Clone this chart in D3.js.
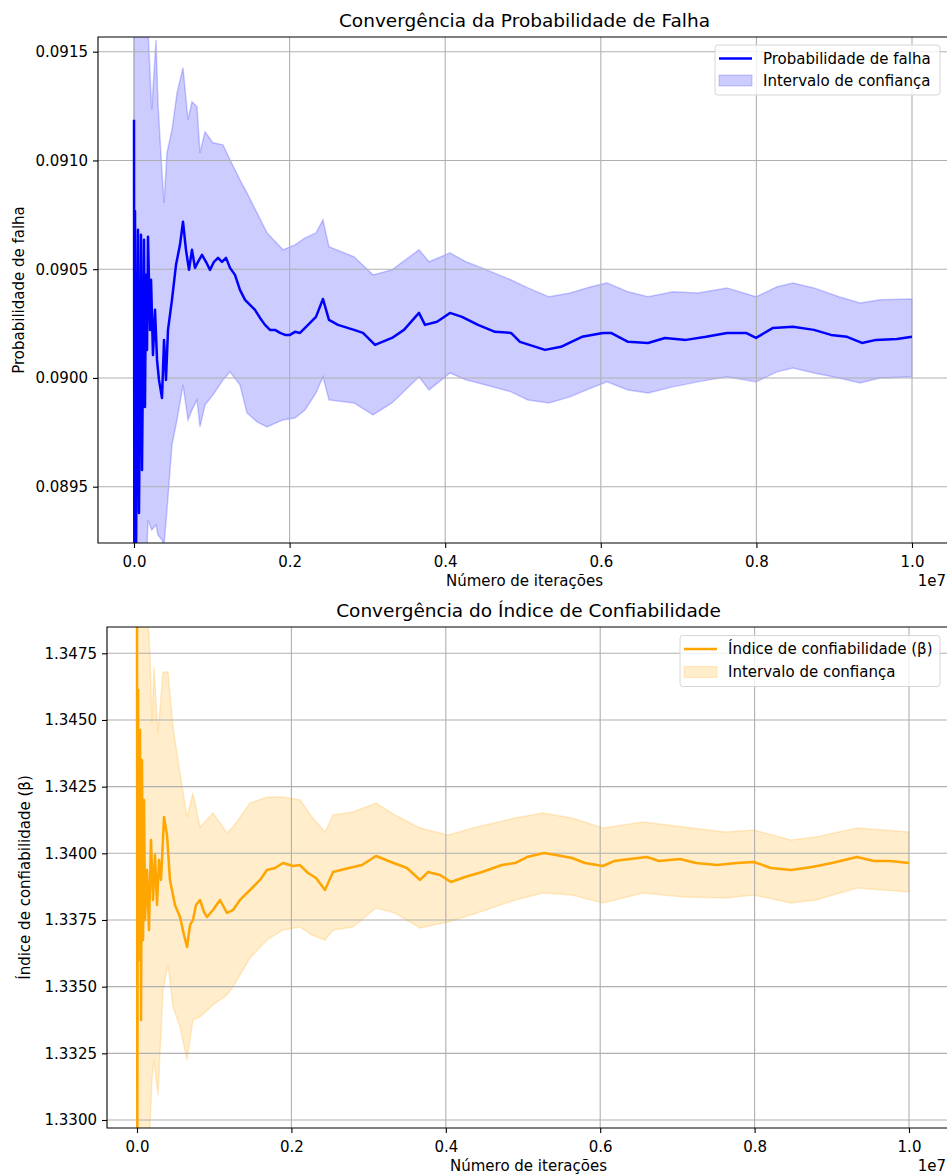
<!DOCTYPE html>
<html>
<head>
<meta charset="utf-8">
<script src="https://cdn.jsdelivr.net/npm/d3@7"></script>
<style>
  body { margin: 0; background: #fff; }
  svg { font-family: 'DejaVu Sans', sans-serif; }
</style>
</head>
<body>
<svg width="947" height="1176"></svg>
<script>
(function (d3) {
  'use strict';

  // iterations are in millions (axis shows them as x 1e7)
  const probMeanIter = [0, 0.004, 0.013, 0.026, 0.039, 0.051, 0.064, 0.090, 0.103, 0.129, 0.141, 0.154, 0.167, 0.180,
    0.206, 0.219, 0.244, 0.270, 0.296, 0.321, 0.360, 0.386, 0.411, 0.437, 0.488, 0.540, 0.591, 0.630, 0.668, 0.707,
    0.745, 0.784, 0.823, 0.874, 0.925, 0.977, 1.028, 1.080, 1.131, 1.183, 1.234, 1.298, 1.362, 1.427, 1.491, 1.555,
    1.620, 1.684, 1.748, 1.812, 1.877, 1.941, 2.005, 2.069, 2.134, 2.237, 2.339, 2.429, 2.506, 2.622, 2.828, 2.943,
    3.098, 3.316, 3.470, 3.663, 3.740, 3.895, 4.062, 4.216, 4.422, 4.640, 4.846, 4.961, 5.283, 5.488, 5.758, 6.028,
    6.131, 6.350, 6.607, 6.825, 7.095, 7.352, 7.622, 7.866, 7.995, 8.213, 8.470, 8.740, 8.959, 9.165, 9.357, 9.537,
    9.807, 10.0];
  const probMean = [0.091187, 0.089163, 0.090768, 0.089163, 0.089991, 0.090681, 0.089379, 0.090658, 0.089577, 0.090635,
    0.089867, 0.090474, 0.090129, 0.090649, 0.090221, 0.090451, 0.090106, 0.090313, 0.090083, 0.089991, 0.089908,
    0.090175, 0.089991, 0.090221, 0.090359, 0.090520, 0.090612, 0.090718, 0.090589, 0.090497, 0.090589, 0.090506,
    0.090534, 0.090566, 0.090534, 0.090497, 0.090534, 0.090552, 0.090534, 0.090552, 0.090506, 0.090474, 0.090405,
    0.090359, 0.090336, 0.090313, 0.090276, 0.090244, 0.090221, 0.090221, 0.090207, 0.090198, 0.090198, 0.090212,
    0.090207, 0.090244, 0.090281, 0.090363, 0.090267, 0.090244, 0.090221, 0.090207, 0.090152, 0.090184, 0.090221,
    0.090299, 0.090244, 0.090258, 0.090299, 0.090281, 0.090244, 0.090212, 0.090207, 0.090166, 0.090129, 0.090143,
    0.090189, 0.090207, 0.090207, 0.090166, 0.090161, 0.090184, 0.090175, 0.090189, 0.090207, 0.090207, 0.090184,
    0.090230, 0.090235, 0.090221, 0.090198, 0.090189, 0.090161, 0.090175, 0.090179, 0.090189];

  const probBandIter = [0, 0.116, 0.180, 0.228, 0.283, 0.308, 0.360, 0.386, 0.424, 0.488, 0.553, 0.630, 0.694, 0.745,
    0.810, 0.848, 0.913, 1.015, 1.144, 1.234, 1.362, 1.452, 1.581, 1.710, 1.915, 2.069, 2.198, 2.339, 2.429, 2.506,
    2.828, 3.072, 3.316, 3.663, 3.792, 4.062, 4.267, 4.473, 4.846, 5.064, 5.334, 5.604, 5.874, 6.080, 6.350, 6.607,
    6.928, 7.249, 7.622, 7.995, 8.265, 8.470, 8.740, 9.062, 9.332, 9.589, 10.0];
  const probUpper = [0.0925, 0.0918, 0.091601, 0.091233, 0.091555, 0.091265, 0.090943, 0.090805, 0.091035, 0.091141,
    0.091311, 0.091426, 0.091187, 0.091270, 0.091247, 0.091035, 0.091132, 0.091081, 0.091072, 0.091003, 0.090911,
    0.090851, 0.090759, 0.090667, 0.090589, 0.090612, 0.090644, 0.090667, 0.090727, 0.090603, 0.090557, 0.090474,
    0.090497, 0.090589, 0.090534, 0.090575, 0.090534, 0.090506, 0.090451, 0.090414, 0.090373, 0.090391, 0.090419,
    0.090437, 0.090396, 0.090373, 0.090396, 0.090391, 0.090414, 0.090373, 0.090419, 0.090437, 0.090414, 0.090373,
    0.090345, 0.090359, 0.090363];
  const probLower = [0.0885, 0.0887, 0.089347, 0.089301, 0.089324, 0.089278, 0.089255, 0.089232, 0.089393, 0.089692,
    0.089807, 0.089968, 0.089807, 0.089853, 0.089899, 0.089775, 0.089876, 0.089922, 0.089991, 0.090028, 0.089968,
    0.089839, 0.089798, 0.089775, 0.089807, 0.089816, 0.089853, 0.089931, 0.090005, 0.089899, 0.089885, 0.089830,
    0.089885, 0.090005, 0.089945, 0.090023, 0.089991, 0.089972, 0.089936, 0.089899, 0.089885, 0.089913, 0.089954,
    0.089982, 0.089945, 0.089931, 0.089959, 0.089982, 0.090005, 0.089982, 0.090028, 0.090046, 0.090023, 0.090000,
    0.089977, 0.090000, 0.090005];

  const betaMeanIter = [0, 0.004, 0.013, 0.026, 0.039, 0.052, 0.065, 0.078, 0.091, 0.104, 0.130, 0.155, 0.181, 0.207,
    0.233, 0.259, 0.285, 0.311, 0.350, 0.389, 0.427, 0.492, 0.557, 0.609, 0.648, 0.687, 0.725, 0.764, 0.816, 0.868,
    0.907, 0.984, 1.075, 1.166, 1.244, 1.334, 1.425, 1.503, 1.593, 1.684, 1.788, 1.891, 2.021, 2.111, 2.215, 2.319,
    2.435, 2.539, 2.746, 2.915, 3.096, 3.290, 3.497, 3.666, 3.769, 3.925, 4.067, 4.249, 4.469, 4.728, 4.896, 5.052,
    5.272, 5.427, 5.635, 5.803, 6.036, 6.179, 6.386, 6.606, 6.762, 7.034, 7.241, 7.513, 7.772, 7.992, 8.212, 8.472,
    8.743, 9.003, 9.326, 9.547, 9.754, 10.0];
  const betaMean = [1.3500, 1.3290, 1.346120, 1.336000, 1.344621, 1.333752, 1.343497, 1.336750, 1.341998, 1.337500,
    1.339374, 1.337125, 1.340498, 1.338250, 1.339936, 1.338062, 1.339749, 1.339000, 1.341361, 1.340686, 1.339000,
    1.338062, 1.337613, 1.336938, 1.336488, 1.337313, 1.337500, 1.338062, 1.338250, 1.337800, 1.337613, 1.337875,
    1.338250, 1.337762, 1.337875, 1.338250, 1.338512, 1.338737, 1.339000, 1.339374, 1.339449, 1.339636, 1.339524,
    1.339561, 1.339262, 1.339074, 1.338624, 1.339299, 1.339449, 1.339561, 1.339899, 1.339674, 1.339449, 1.339000,
    1.339299, 1.339187, 1.338924, 1.339112, 1.339299, 1.339561, 1.339636, 1.339861, 1.340011, 1.339936, 1.339824,
    1.339636, 1.339524, 1.339711, 1.339786, 1.339861, 1.339711, 1.339786, 1.339636, 1.339561, 1.339636, 1.339674,
    1.339449, 1.339374, 1.339487, 1.339636, 1.339861, 1.339711, 1.339711, 1.339636];

  const betaBandIter = [0, 0.117, 0.168, 0.194, 0.220, 0.272, 0.337, 0.402, 0.466, 0.557, 0.648, 0.725, 0.816, 0.984,
    1.166, 1.244, 1.464, 1.684, 1.891, 2.111, 2.267, 2.435, 2.539, 2.798, 3.096, 3.342, 3.666, 4.028, 4.404, 4.896,
    5.259, 5.635, 6.036, 6.554, 7.085, 7.617, 7.992, 8.472, 8.795, 9.326, 10.0];
  const betaUpper = [1.3520, 1.3500, 1.347507, 1.344884, 1.346983, 1.344509, 1.346795, 1.346795, 1.344734, 1.343010,
    1.341361, 1.342260, 1.340986, 1.341510, 1.340761, 1.340986, 1.341885, 1.342110, 1.342110, 1.341998, 1.341361,
    1.340798, 1.341435, 1.341548, 1.341885, 1.341435, 1.340948, 1.340686, 1.340986, 1.341323, 1.341510, 1.341323,
    1.340948, 1.341173, 1.340986, 1.340798, 1.340873, 1.340498, 1.340611, 1.340948, 1.340798];
  const betaLower = [1.3260, 1.3280, 1.329704, 1.331503, 1.332253, 1.330941, 1.334876, 1.335813, 1.334239, 1.333490,
    1.332253, 1.333752, 1.333865, 1.334314, 1.334689, 1.334989, 1.336076, 1.336750, 1.337125, 1.337238, 1.336938,
    1.336750, 1.337125, 1.337238, 1.337950, 1.337762, 1.337200, 1.337425, 1.337762, 1.338250, 1.338512, 1.338437,
    1.338137, 1.338512, 1.338362, 1.338325, 1.338437, 1.338137, 1.338250, 1.338700, 1.338550];

  const xTicks = [0, 2, 4, 6, 8, 10];
  const probTicks = [0.0895, 0.0900, 0.0905, 0.0910, 0.0915];
  const betaTicks = [1.3300, 1.3325, 1.3350, 1.3375, 1.3400, 1.3425, 1.3450, 1.3475];

  const fontSize = 15;

  const convergencePlot = (selection, props) => {
    const {
      id, box, xRange, yRange, yTicks, color, meanIter, mean, bandIter, upper, lower,
      title, titleY, yLabel, yLabelX, xLabelY, legend
    } = props;

    const xScale = d3.scaleLinear().domain([0, 10]).range(xRange);
    const yScale = d3.scaleLinear()
      .domain([yTicks[0], yTicks[yTicks.length - 1]])
      .range(yRange);

    const g = selection.append('g').attr('class', id);

    g.append('clipPath').attr('id', id + '-clip')
      .append('rect')
        .attr('x', box.left).attr('y', box.top)
        .attr('width', box.right - box.left)
        .attr('height', box.bottom - box.top);

    const plot = g.append('g').attr('clip-path', `url(#${id}-clip)`);

    const idx = d3.range(bandIter.length);
    plot.append('path')
      .attr('d', d3.area()
        .x(i => xScale(bandIter[i]))
        .y0(i => yScale(lower[i]))
        .y1(i => yScale(upper[i]))(idx))
      .attr('fill', color)
      .attr('fill-opacity', 0.2)
      .attr('stroke', color)
      .attr('stroke-opacity', 0.2)
      .attr('stroke-width', 1.5);

    // grid sits above the band, below the line (matplotlib zorder)
    plot.selectAll('.vgrid').data(xTicks).enter().append('line')
      .attr('x1', d => xScale(d)).attr('x2', d => xScale(d))
      .attr('y1', box.top).attr('y2', box.bottom)
      .attr('stroke', '#b0b0b0').attr('stroke-width', 1.1);
    plot.selectAll('.hgrid').data(yTicks).enter().append('line')
      .attr('x1', box.left).attr('x2', box.right)
      .attr('y1', d => yScale(d)).attr('y2', d => yScale(d))
      .attr('stroke', '#b0b0b0').attr('stroke-width', 1.1);

    plot.append('path')
      .attr('d', d3.line()
        .x(i => xScale(meanIter[i]))
        .y(i => yScale(mean[i]))(d3.range(meanIter.length)))
      .attr('fill', 'none')
      .attr('stroke', color)
      .attr('stroke-width', 2.5)
      .attr('stroke-linejoin', 'round');

    // spines (right one falls outside the page)
    g.append('path')
      .attr('d', `M${box.right},${box.top}H${box.left}V${box.bottom}H${box.right}`)
      .attr('fill', 'none')
      .attr('stroke', '#000')
      .attr('stroke-width', 1.1);

    const xAxis = d3.axisBottom(xScale)
      .tickValues(xTicks)
      .tickFormat(d => (d / 10).toFixed(1))
      .tickSize(5)
      .tickPadding(8);
    const xAxisG = g.append('g')
      .attr('transform', `translate(0,${box.bottom})`)
      .call(xAxis);
    xAxisG.select('.domain').remove();

    const yAxis = d3.axisLeft(yScale)
      .tickValues(yTicks)
      .tickFormat(d3.format('.4f'))
      .tickSize(5)
      .tickPadding(5);
    const yAxisG = g.append('g')
      .attr('transform', `translate(${box.left},0)`)
      .call(yAxis);
    yAxisG.select('.domain').remove();

    g.selectAll('.tick text')
      .attr('font-family', 'DejaVu Sans')
      .attr('font-size', fontSize)
      .attr('fill', '#000');
    g.selectAll('.tick line').attr('stroke', '#000').attr('stroke-width', 1.1);

    const midX = (box.left + box.right) / 2;

    g.append('text')
      .attr('x', 946).attr('y', xLabelY)
      .attr('text-anchor', 'end')
      .attr('font-size', fontSize)
      .text('1e7');

    g.append('text')
      .attr('x', midX).attr('y', xLabelY)
      .attr('text-anchor', 'middle')
      .attr('font-size', fontSize)
      .text('Número de iterações');

    g.append('text')
      .attr('transform', `translate(${yLabelX},${(box.top + box.bottom) / 2}) rotate(-90)`)
      .attr('text-anchor', 'middle')
      .attr('font-size', fontSize)
      .text(yLabel);

    g.append('text')
      .attr('x', midX).attr('y', titleY)
      .attr('text-anchor', 'middle')
      .attr('font-size', 18.5)
      .text(title);

    // legend
    const lg = g.append('g');
    const rows = [legend.row1, legend.row2];
    lg.append('rect')
      .attr('x', legend.left).attr('y', rows[0] - 13.5)
      .attr('width', legend.right - legend.left)
      .attr('height', rows[1] - rows[0] + 28)
      .attr('rx', 3)
      .attr('fill', '#fff').attr('fill-opacity', 0.8)
      .attr('stroke', '#d6d6d6').attr('stroke-width', 1);
    const hx = legend.left + 4;
    lg.append('line')
      .attr('x1', hx).attr('x2', hx + 33)
      .attr('y1', rows[0]).attr('y2', rows[0])
      .attr('stroke', color).attr('stroke-width', 2.5);
    lg.append('rect')
      .attr('x', hx).attr('y', rows[1] - 5.5)
      .attr('width', 33).attr('height', 11)
      .attr('fill', color).attr('fill-opacity', 0.2)
      .attr('stroke', color).attr('stroke-opacity', 0.2);
    lg.selectAll('.legend-label').data(legend.labels).enter().append('text')
      .attr('x', hx + 44)
      .attr('y', (d, i) => rows[i] + 5)
      .attr('font-size', fontSize)
      .text(d => d);
  };

  const svg = d3.select('svg');

  svg.call(convergencePlot, {
    id: 'prob',
    box: { left: 98, right: 951, top: 37, bottom: 543 },
    xRange: [134, 912],
    yRange: [486.7, 51.7],
    yTicks: probTicks,
    color: '#0000ff',
    meanIter: probMeanIter,
    mean: probMean,
    bandIter: probBandIter,
    upper: probUpper,
    lower: probLower,
    title: 'Convergência da Probabilidade de Falha',
    titleY: 27,
    yLabel: 'Probabilidade de falha',
    yLabelX: 24,
    xLabelY: 586,
    legend: {
      left: 715, right: 940, row1: 58.5, row2: 80.5,
      labels: ['Probabilidade de falha', 'Intervalo de confiança']
    }
  });

  svg.call(convergencePlot, {
    id: 'beta',
    box: { left: 107, right: 950, top: 627, bottom: 1128 },
    xRange: [137, 909],
    yRange: [1120, 653.3],
    yTicks: betaTicks,
    color: '#ffa500',
    meanIter: betaMeanIter,
    mean: betaMean,
    bandIter: betaBandIter,
    upper: betaUpper,
    lower: betaLower,
    title: 'Convergência do Índice de Confiabilidade',
    titleY: 617,
    yLabel: 'Índice de confiabilidade (β)',
    yLabelX: 30,
    xLabelY: 1171,
    legend: {
      left: 680, right: 940, row1: 649, row2: 672,
      labels: ['Índice de confiabilidade (β)', 'Intervalo de confiança']
    }
  });

}(d3));
</script>
</body>
</html>
